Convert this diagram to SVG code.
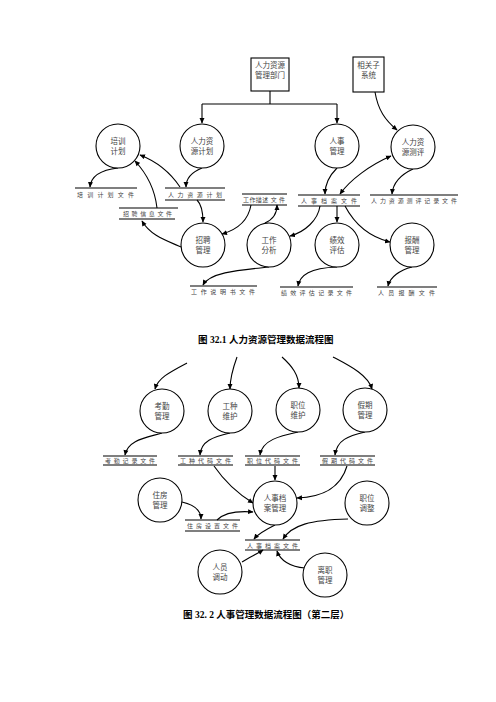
<svg xmlns="http://www.w3.org/2000/svg" width="496" height="702" viewBox="0 0 496 702">
<defs>
<marker id="ah" viewBox="0 0 10 10" refX="9" refY="5" markerWidth="6" markerHeight="5.5" markerUnits="userSpaceOnUse" orient="auto-start-reverse">
<path d="M0,0.5 L10,5 L0,9.5 z" fill="#000"/>
</marker>
<style>
.c{fill:#fff;stroke:#000;stroke-width:1.1}
.b{fill:#fff;stroke:#000;stroke-width:1.1}
.s{stroke:#000;stroke-width:1.1;fill:none}
.e{fill:none;stroke:#000;stroke-width:1.1}
.a{marker-end:url(#ah)}
.t{font-family:"Liberation Serif","Noto Sans CJK SC",serif;font-size:7.5px;fill:#444;text-anchor:middle}
.st{font-family:"Liberation Serif","Noto Sans CJK SC",serif;font-size:6px;fill:#444}
.cap{font-family:"Liberation Serif","Noto Sans CJK SC",serif;font-size:9.5px;font-weight:bold;fill:#000}
</style>
</defs>
<rect width="496" height="702" fill="#fff"/>

<g id="connectors">
<!-- top diagram -->
<path class="e" d="M270,91 V104 M202,104 H337"/>
<path class="e a" d="M202,104 V123"/>
<path class="e a" d="M337,104 V123"/>
<path class="e a" d="M375,92 C378,110 385,120 397,130"/>
<path class="e a" d="M202,168 C192,172 186,178 186,187"/>
<path class="e a" d="M118,168 C100,170 91,176 90,187"/>
<path class="e a" d="M180,187 C170,172 158,162 140,155"/>
<path class="e a" d="M157,208 C155,190 148,175 135,161"/>
<path class="e a" d="M197,200 C202,205 203,212 203,222"/>
<path class="e a" d="M181,247 C165,240 150,235 142,221"/>
<path class="e a" d="M251,205 C248,222 236,230 222,234"/>
<path class="e a" d="M265,223 C272,220 277,214 277,205"/>
<path class="e a" d="M269,267 C240,270 210,272 203,285"/>
<path class="e a" d="M337,168 C330,175 325,185 325,194"/>
<path class="e a" d="M340,194 C350,180 370,165 391,156" marker-start="url(#ah)"/>
<path class="e a" d="M413,169 C400,175 393,183 392,194"/>
<path class="e a" d="M320,206 C318,220 305,232 290,236"/>
<path class="e a" d="M337,206 V222"/>
<path class="e a" d="M345,206 C355,225 370,237 390,242"/>
<path class="e a" d="M337,267 C310,268 300,275 298,286"/>
<path class="e a" d="M412,267 C400,270 390,277 388,286"/>
<!-- second diagram -->
<path class="e a" d="M187,363 C170,372 158,378 155,389"/>
<path class="e a" d="M237,357 C233,368 230,378 230,389"/>
<path class="e a" d="M282,357 C292,366 299,375 299,388"/>
<path class="e a" d="M333,357 C350,366 368,375 372,389"/>
<path class="e a" d="M162,433 C145,438 128,440 125,455"/>
<path class="e a" d="M230,433 C213,437 201,441 200,455"/>
<path class="e a" d="M298,432 C280,436 262,440 260,455"/>
<path class="e a" d="M365,432 C348,436 337,440 335,455"/>
<path class="e a" d="M214,466 C225,482 240,495 253,503"/>
<path class="e a" d="M275,466 V480"/>
<path class="e a" d="M347,466 C340,490 320,497 297,498"/>
<path class="e a" d="M182,502 C195,505 201,510 201,519"/>
<path class="e a" d="M217,520 C225,512 240,511 253,512"/>
<path class="e a" d="M275,525 C265,530 258,534 254,539"/>
<path class="e a" d="M348,519 C310,520 292,525 283,539"/>
<path class="e a" d="M242,562 C250,557 257,554 263,550"/>
<path class="e a" d="M305,568 C290,567 280,560 277,551"/>
</g>

<!-- external entities -->
<g id="hrdept"><rect class="b" x="251" y="58" width="38" height="33"/><text class="t" x="270" y="68">人力资源</text><text class="t" x="270" y="78">管理部门</text></g>
<g id="subsys"><rect class="b" x="353" y="57" width="31" height="35"/><text class="t" x="368.5" y="68">相关子</text><text class="t" x="368.5" y="78">系统</text></g>

<!-- processes top -->
<g id="p_train"><circle class="c" cx="118" cy="146" r="22"/><text class="t" x="118" y="144">培训</text><text class="t" x="118" y="154">计划</text></g>
<g id="p_hrplan"><circle class="c" cx="202" cy="146" r="22"/><text class="t" x="202" y="144">人力资</text><text class="t" x="202" y="154">源计划</text></g>
<g id="p_personnel"><circle class="c" cx="337" cy="146" r="22"/><text class="t" x="337" y="144">人事</text><text class="t" x="337" y="154">管理</text></g>
<g id="p_eval"><circle class="c" cx="413" cy="147" r="22"/><text class="t" x="413" y="145">人力资</text><text class="t" x="413" y="155">源测评</text></g>
<g id="p_recruit"><circle class="c" cx="203" cy="245" r="22"/><text class="t" x="203" y="243">招聘</text><text class="t" x="203" y="253">管理</text></g>
<g id="p_jobanalysis"><circle class="c" cx="269" cy="245" r="22"/><text class="t" x="269" y="243">工作</text><text class="t" x="269" y="253">分析</text></g>
<g id="p_perf"><circle class="c" cx="337" cy="245" r="22"/><text class="t" x="337" y="243">绩效</text><text class="t" x="337" y="253">评估</text></g>
<g id="p_pay"><circle class="c" cx="412" cy="245" r="22"/><text class="t" x="412" y="243">报酬</text><text class="t" x="412" y="253">管理</text></g>

<!-- stores top -->
<g id="d_trainfile"><path class="s" d="M75,188 H137"/><text class="st" x="77" y="197" textLength="57" lengthAdjust="spacing">培 训 计 划 文 件</text></g>
<g id="d_hrplan"><path class="s" d="M165,188 H225 M165,200 H225"/><text class="st" x="168" y="197" textLength="54" lengthAdjust="spacing">人 力 资 源 计 划</text></g>
<g id="d_recruitinfo"><path class="s" d="M119,208 H178 M119,219 H175"/><text class="st" x="123" y="216" textLength="49" lengthAdjust="spacing">招 聘 信 息 文 件</text></g>
<g id="d_jobdesc"><path class="s" d="M242,194 H287 M242,205 H287"/><text class="st" x="243" y="202" textLength="42" lengthAdjust="spacing">工作描述 文 件</text></g>
<g id="d_personnel"><path class="s" d="M298,195 H360 M298,206 H360"/><text class="st" x="301" y="203" textLength="56" lengthAdjust="spacing">人 事 档 案 文 件</text></g>
<g id="d_evalrec"><path class="s" d="M370,195 H458"/><text class="st" x="371" y="203" textLength="86" lengthAdjust="spacing">人 力 资 源 测 评 记 录 文 件</text></g>
<g id="d_jobspec"><path class="s" d="M190,286 H257"/><text class="st" x="191" y="294" textLength="64" lengthAdjust="spacing">工 作 说 明 书 文 件</text></g>
<g id="d_perfrec"><path class="s" d="M280,287 H353"/><text class="st" x="281" y="295" textLength="71" lengthAdjust="spacing">绩 效 评 估 记 录 文 件</text></g>
<g id="d_payfile"><path class="s" d="M377,287 H437"/><text class="st" x="378" y="295" textLength="57" lengthAdjust="spacing">人 员 报 酬  文 件</text></g>

<text class="cap" x="198" y="343">图 32.1  人力资源管理数据流程图</text>

<!-- processes second -->
<g id="p_attend"><circle class="c" cx="162" cy="411" r="22"/><text class="t" x="162" y="409">考勤</text><text class="t" x="162" y="419">管理</text></g>
<g id="p_worktype"><circle class="c" cx="230" cy="411" r="22"/><text class="t" x="230" y="409">工种</text><text class="t" x="230" y="419">维护</text></g>
<g id="p_position"><circle class="c" cx="298" cy="410" r="22"/><text class="t" x="298" y="408">职位</text><text class="t" x="298" y="418">维护</text></g>
<g id="p_leave"><circle class="c" cx="365" cy="410" r="22"/><text class="t" x="365" y="408">假期</text><text class="t" x="365" y="418">管理</text></g>
<g id="p_housing"><circle class="c" cx="160" cy="500" r="22"/><text class="t" x="160" y="498">住房</text><text class="t" x="160" y="508">管理</text></g>
<g id="p_archive"><circle class="c" cx="275" cy="503" r="22"/><text class="t" x="275" y="501">人事档</text><text class="t" x="275" y="511">案管理</text></g>
<g id="p_posadj"><circle class="c" cx="367" cy="503" r="22"/><text class="t" x="367" y="501">职位</text><text class="t" x="367" y="511">调整</text></g>
<g id="p_transfer"><circle class="c" cx="220" cy="572" r="22"/><text class="t" x="220" y="570">人员</text><text class="t" x="220" y="580">调动</text></g>
<g id="p_resign"><circle class="c" cx="325" cy="575" r="22"/><text class="t" x="325" y="573">离职</text><text class="t" x="325" y="583">管理</text></g>

<!-- stores second -->
<g id="d_attendrec"><path class="s" d="M103,456 H157 M103,465 H157"/><text class="st" x="105" y="463" textLength="50" lengthAdjust="spacing">考 勤 记 录 文 件</text></g>
<g id="d_worktype"><path class="s" d="M178,456 H233 M178,465 H233"/><text class="st" x="180" y="463" textLength="51" lengthAdjust="spacing">工 种 代 码 文 件</text></g>
<g id="d_poscode"><path class="s" d="M245,456 H300 M245,465 H300"/><text class="st" x="247" y="463" textLength="51" lengthAdjust="spacing">职 位 代 码 文 件</text></g>
<g id="d_leavecode"><path class="s" d="M320,456 H375 M320,465 H375"/><text class="st" x="322" y="463" textLength="51" lengthAdjust="spacing">假 期 代 码 文 件</text></g>
<g id="d_housingset"><path class="s" d="M185,520 H240 M185,531 H240"/><text class="st" x="187" y="528" textLength="51" lengthAdjust="spacing">住 房 设 置 文 件</text></g>
<g id="d_archivefile"><path class="s" d="M245,540 H300 M245,550 H300"/><text class="st" x="247" y="547.5" textLength="51" lengthAdjust="spacing">人 事 档 案 文 件</text></g>

<text class="cap" x="183" y="618">图 32. 2  人事管理数据流程图（第二层）</text>
</svg>
